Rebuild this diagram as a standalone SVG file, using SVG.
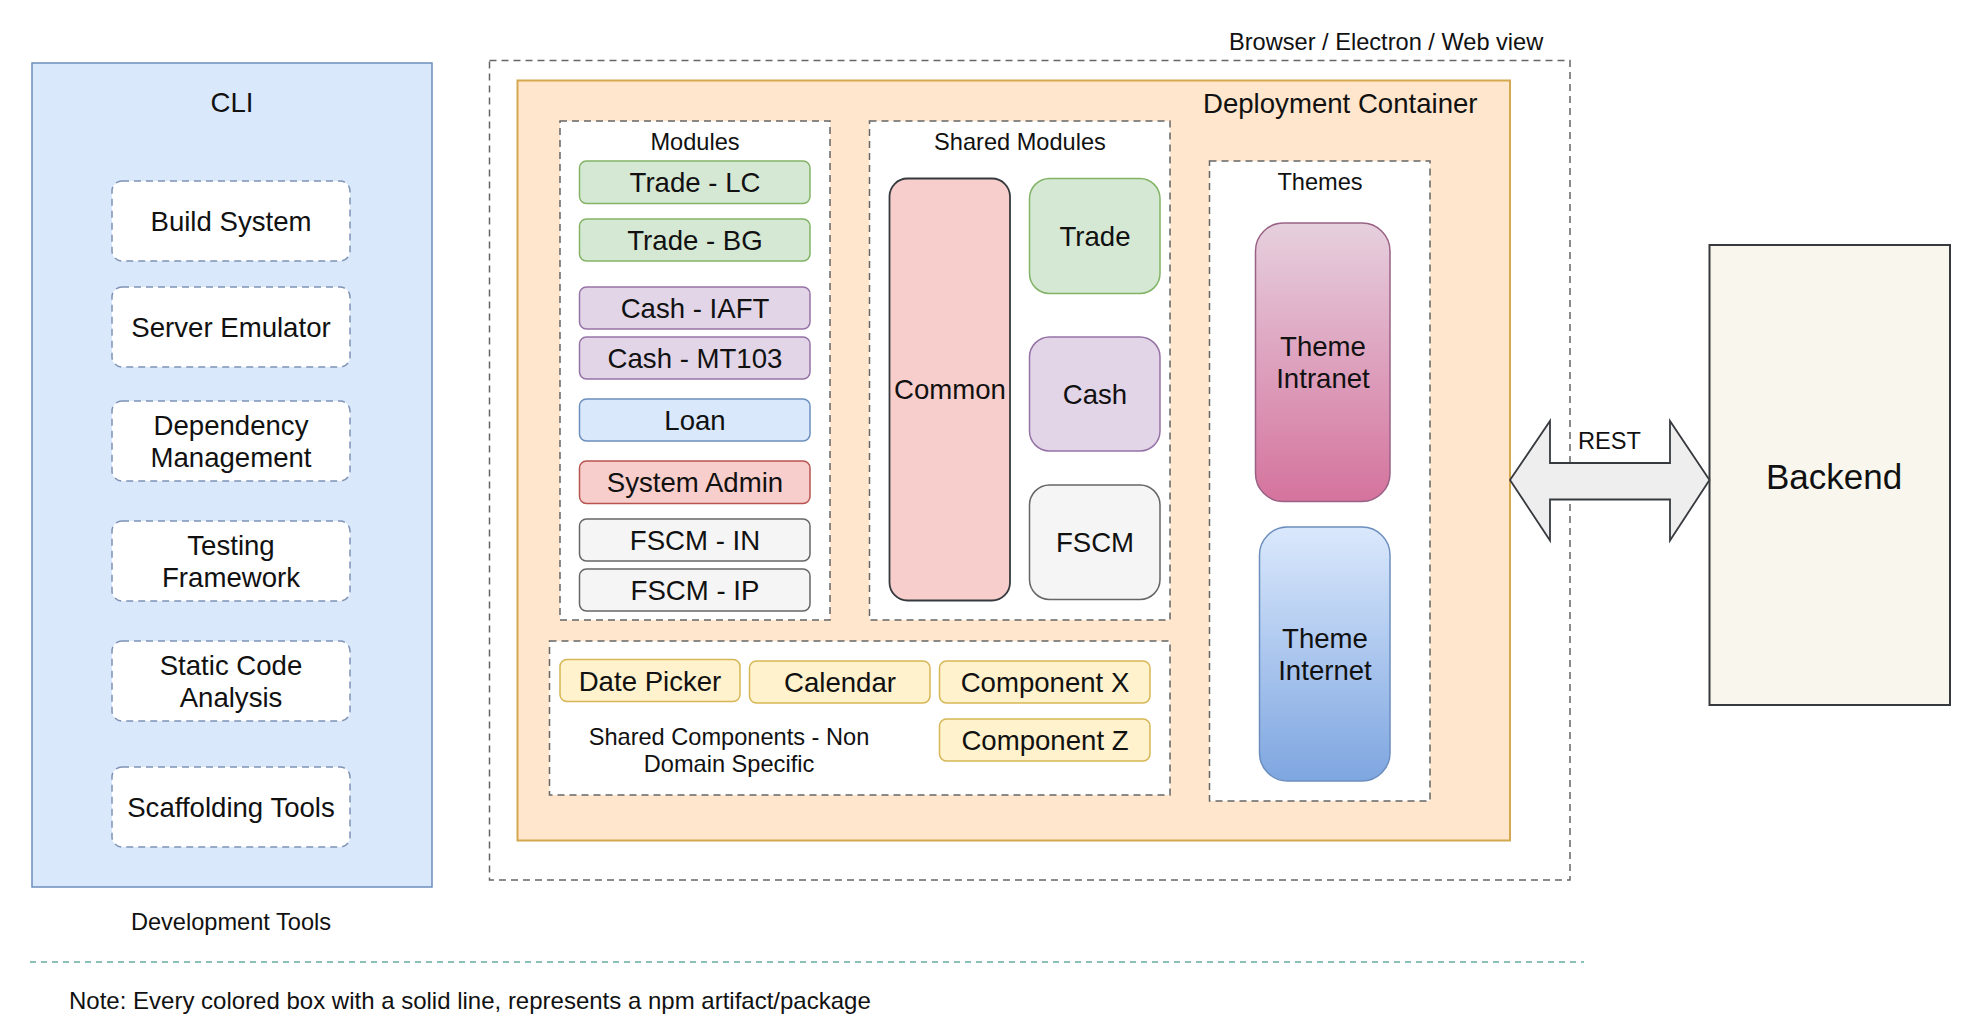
<svg xmlns="http://www.w3.org/2000/svg" width="1974" height="1022" viewBox="0 0 1974 1022">
<defs>
<linearGradient id="gIntra" x1="0" y1="0" x2="0" y2="1"><stop offset="0" stop-color="#e6d0de"/><stop offset="1" stop-color="#d5739d"/></linearGradient>
<linearGradient id="gInter" x1="0" y1="0" x2="0" y2="1"><stop offset="0" stop-color="#dae8fc"/><stop offset="1" stop-color="#7ea6e0"/></linearGradient>
<style>
text{font-family:"Liberation Sans",Arial,Helvetica,sans-serif;fill:#111;text-anchor:middle}
.L{font-size:27.6px}
.S{font-size:23.6px}
.B{font-size:35px}
.dash{fill:#fff;stroke:#666;stroke-width:1.5;stroke-dasharray:7 5}
.cli{fill:#fff;stroke:#7f93b5;stroke-width:1.5;stroke-dasharray:7 5}
.green{fill:#d5e8d4;stroke:#82b366;stroke-width:1.5}
.purple{fill:#e1d5e7;stroke:#9673a6;stroke-width:1.5}
.blue{fill:#dae8fc;stroke:#6c8ebf;stroke-width:1.5}
.red{fill:#f8cecc;stroke:#b85450;stroke-width:1.5}
.gray{fill:#f5f5f5;stroke:#666;stroke-width:1.5}
.yellow{fill:#fff2cc;stroke:#d6b656;stroke-width:1.5}
</style>
</defs>
<rect width="1974" height="1022" fill="#fff"/>

<g id="cli">
<rect x="32" y="63" width="400" height="824" fill="#dae8fc" stroke="#6c8ebf" stroke-width="1.5"/>
<text class="L" x="232" y="111.5">CLI</text>
</g>
<g id="build-system"><rect class="cli" x="112" y="181" width="238" height="80" rx="10"/><text class="L" x="231" y="230.5">Build System</text></g>
<g id="server-emulator"><rect class="cli" x="112" y="287" width="238" height="80" rx="10"/><text class="L" x="231" y="336.5">Server Emulator</text></g>
<g id="dependency-management"><rect class="cli" x="112" y="401" width="238" height="80" rx="10"/><text class="L" x="231" y="435">Dependency</text><text class="L" x="231" y="466.5">Management</text></g>
<g id="testing-framework"><rect class="cli" x="112" y="521" width="238" height="80" rx="10"/><text class="L" x="231" y="555">Testing</text><text class="L" x="231" y="586.5">Framework</text></g>
<g id="static-code-analysis"><rect class="cli" x="112" y="641" width="238" height="80" rx="10"/><text class="L" x="231" y="675">Static Code</text><text class="L" x="231" y="706.5">Analysis</text></g>
<g id="scaffolding-tools"><rect class="cli" x="112" y="767" width="238" height="80" rx="10"/><text class="L" x="231" y="816.5">Scaffolding Tools</text></g>
<g id="development-tools-label"><text class="S" x="231" y="930">Development Tools</text></g>

<g id="browser">
<rect x="489.5" y="60.5" width="1080.5" height="819.5" fill="#fff" stroke="#666" stroke-width="1.5" stroke-dasharray="7 5"/>
<text class="S" x="1229" y="50" style="text-anchor:start">Browser / Electron / Web view</text>
</g>
<g id="deployment-container">
<rect x="517.5" y="80.5" width="992.5" height="760" fill="#ffe6cc" stroke="#d4a84f" stroke-width="2"/>
<text class="L" x="1203" y="112.5" style="text-anchor:start">Deployment Container</text>
</g>

<g id="modules">
<rect class="dash" x="560" y="121" width="270" height="499"/>
<text class="S" x="695" y="150">Modules</text>
</g>
<g id="trade-lc"><rect class="green" x="579.5" y="161" width="230.5" height="42.5" rx="7"/><text class="L" x="695" y="192">Trade - LC</text></g>
<g id="trade-bg"><rect class="green" x="579.5" y="219" width="230.5" height="42" rx="7"/><text class="L" x="695" y="250">Trade - BG</text></g>
<g id="cash-iaft"><rect class="purple" x="579.5" y="287" width="230.5" height="42" rx="7"/><text class="L" x="695" y="318">Cash - IAFT</text></g>
<g id="cash-mt103"><rect class="purple" x="579.5" y="337" width="230.5" height="42" rx="7"/><text class="L" x="695" y="368">Cash - MT103</text></g>
<g id="loan"><rect class="blue" x="579.5" y="399" width="230.5" height="42" rx="7"/><text class="L" x="695" y="430">Loan</text></g>
<g id="system-admin"><rect class="red" x="579.5" y="461" width="230.5" height="42.5" rx="7"/><text class="L" x="695" y="492">System Admin</text></g>
<g id="fscm-in"><rect class="gray" x="579.5" y="519" width="230.5" height="42" rx="7"/><text class="L" x="695" y="550">FSCM - IN</text></g>
<g id="fscm-ip"><rect class="gray" x="579.5" y="569" width="230.5" height="42" rx="7"/><text class="L" x="695" y="600">FSCM - IP</text></g>

<g id="shared-modules">
<rect class="dash" x="869.5" y="121" width="300.5" height="499"/>
<text class="S" x="1020" y="150">Shared Modules</text>
</g>
<g id="common"><rect x="889.5" y="178.5" width="120.5" height="422" rx="18" fill="#f8cecc" stroke="#36393d" stroke-width="1.8"/><text class="L" x="950" y="399">Common</text></g>
<g id="trade"><rect class="green" x="1029.5" y="178.5" width="130.5" height="115" rx="20"/><text class="L" x="1095" y="246">Trade</text></g>
<g id="cash"><rect class="purple" x="1029.5" y="337" width="130.5" height="114" rx="20"/><text class="L" x="1095" y="404">Cash</text></g>
<g id="fscm"><rect class="gray" x="1029.5" y="485" width="130.5" height="114.5" rx="20"/><text class="L" x="1095" y="552">FSCM</text></g>

<g id="shared-components">
<rect class="dash" x="549.5" y="641" width="620.5" height="154"/>
<text class="S" x="729" y="744.5">Shared Components - Non</text>
<text class="S" x="729" y="772">Domain Specific</text>
</g>
<g id="date-picker"><rect class="yellow" x="560" y="659.5" width="180" height="42" rx="7"/><text class="L" x="650" y="690.5">Date Picker</text></g>
<g id="calendar"><rect class="yellow" x="749.5" y="661" width="180.5" height="42" rx="7"/><text class="L" x="840" y="692">Calendar</text></g>
<g id="component-x"><rect class="yellow" x="939.5" y="661" width="210.5" height="42" rx="7"/><text class="L" x="1045" y="692">Component X</text></g>
<g id="component-z"><rect class="yellow" x="939.5" y="719" width="210.5" height="42" rx="7"/><text class="L" x="1045" y="750">Component Z</text></g>

<g id="themes">
<rect class="dash" x="1209.5" y="161" width="220.5" height="640"/>
<text class="S" x="1320" y="190">Themes</text>
</g>
<g id="theme-intranet"><rect x="1255.5" y="223" width="134.5" height="278.5" rx="28" fill="url(#gIntra)" stroke="#996185" stroke-width="1.5"/><text class="L" x="1323" y="356">Theme</text><text class="L" x="1323" y="388">Intranet</text></g>
<g id="theme-internet"><rect x="1259.5" y="527" width="130.5" height="254" rx="28" fill="url(#gInter)" stroke="#6c8ebf" stroke-width="1.5"/><text class="L" x="1325" y="648">Theme</text><text class="L" x="1325" y="680">Internet</text></g>

<g id="backend"><rect x="1709.5" y="245" width="240.5" height="460" fill="#f9f7ed" stroke="#36393d" stroke-width="2"/><text class="B" x="1834" y="489">Backend</text></g>

<g id="connectors">
<polygon points="1510,480 1550,421 1550,463 1670,463 1670,421 1709.5,480 1670,540.5 1670,499.5 1550,499.5 1550,540.5" fill="#eeeeee" stroke="#36393d" stroke-width="1.8" stroke-linejoin="miter"/>
<text class="S" x="1578" y="449" style="text-anchor:start">REST</text>
</g>

<g id="note">
<line x1="30" y1="962" x2="1584" y2="962" stroke="#67ab9f" stroke-width="1.5" stroke-dasharray="6 5"/>
<text x="69" y="1009" style="text-anchor:start;font-size:24px">Note: Every colored box with a solid line, represents a npm artifact/package</text>
</g>
</svg>
